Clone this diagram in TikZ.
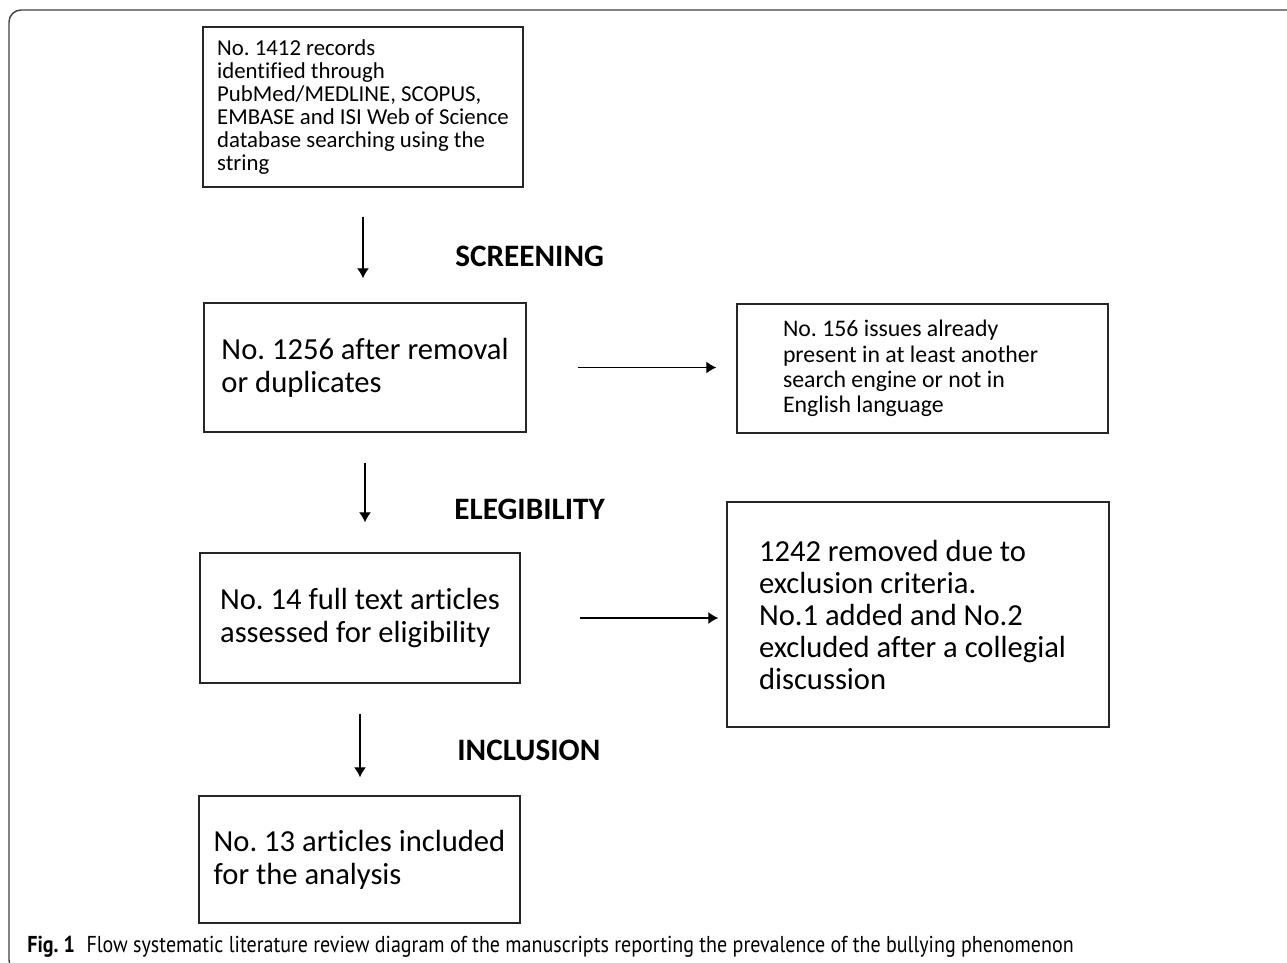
\documentclass[tikz,border=0pt]{standalone}
\usepackage{fontspec}
\setmainfont{Carlito}[Ligatures=NoCommon]
\newfontfamily\capfont{PT Sans}[FakeStretch=0.87]
\usetikzlibrary{arrows.meta}
\frenchspacing

\begin{document}
\begin{tikzpicture}[x=0.5pt, y=-0.5pt,
    box/.style={draw=black!85, line width=0.7pt, rectangle, align=flush left, inner sep=0pt},
    flow/.style={-{Latex[length=5pt, width=6pt]}, line width=0.6pt},
    stage/.style={anchor=west, inner sep=0pt, font=\bfseries\fontsize{15.6}{18}\selectfont}]
    \useasboundingbox (0,0) rectangle (1287,963);

    % outer frame
    \draw[rounded corners=6pt, line width=0.7pt, draw=black!75] (9,10) rectangle (1320,972);

    \node[box, minimum width=160pt, minimum height=80pt, font=\fontsize{11.4}{11.5}\selectfont] (records) at (363,107)
        {No. 1412 records\\identified through\\PubMed/MEDLINE, SCOPUS,\\EMBASE and ISI Web of Science\\database searching using the\\string};

    \node[box, minimum width=161pt, minimum height=64.5pt, font=\fontsize{15.3}{16.5}\selectfont] (dedup) at (365,367.5)
        {No. 1256 after removal\\or duplicates};

    \node[box, minimum width=185.5pt, minimum height=64.5pt, text width=139.5pt, font=\fontsize{11.9}{12.6}\selectfont] (removed) at (922.5,368.5)
        {No. 156 issues already\\present in at least another\\search engine or not in\\English language};

    \node[box, minimum width=160pt, minimum height=65pt, font=\fontsize{15.3}{16.2}\selectfont] (fulltext) at (360,618)
        {No. 14 full text articles\\assessed for eligibility};

    \node[box, minimum width=191pt, minimum height=112.5pt, text width=159pt, font=\fontsize{15.3}{16}\selectfont] (excluded) at (918,614.5)
        {1242 removed due to\\exclusion criteria.\\No.1 added and No.2\\excluded after a collegial\\discussion};

    \node[box, minimum width=160.5pt, minimum height=63.5pt, font=\fontsize{15.3}{16.5}\selectfont] (included) at (359.5,859.5)
        {No. 13 articles included\\for the analysis};

    % stage names
    \node[stage] (screening) at (455,256) {SCREENING};
    \node[stage] (eligibility) at (454,509) {ELEGIBILITY};
    \node[stage] (inclusion) at (457,750) {INCLUSION};

    % arrows
    \draw[flow, shorten <=14.5pt, shorten >=12pt] (records.south) -- (records.south |- dedup.north);
    \draw[flow, shorten <=15pt, shorten >=15pt] (dedup.south) -- (dedup.south |- fulltext.north);
    \draw[flow, shorten <=15pt, shorten >=9pt] (fulltext.south) -- (fulltext.south |- included.north);
    \draw[flow, shorten <=25.5pt, shorten >=10pt] (dedup.east) -- (dedup.east -| removed.west);
    \draw[flow, shorten <=29.5pt, shorten >=4pt] (fulltext.east) -- (fulltext.east -| excluded.west);

    \node[anchor=base west, inner sep=0pt, font=\capfont\fontsize{11.5}{14}\selectfont] (caption) at (27,952)
        {\textbf{Fig. 1}\enspace Flow systematic literature review diagram of the manuscripts reporting the prevalence of the bullying phenomenon};
\end{tikzpicture}
\end{document}
